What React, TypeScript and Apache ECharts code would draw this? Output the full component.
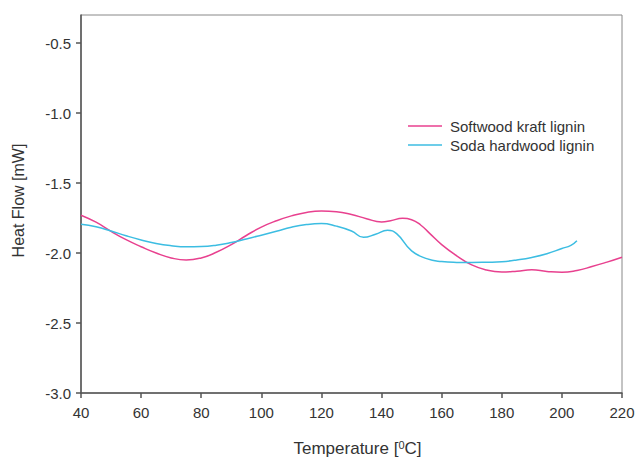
import React, { useEffect, useRef } from "react";
import * as echarts from "echarts";

const softwoodT = [40, 45, 50, 55, 60, 65, 70, 75, 80, 85, 90, 95, 100, 105, 110, 115, 120, 125, 130, 135, 140, 143, 147, 150, 153, 156, 160, 165, 170, 175, 180, 185, 190, 195, 200, 205, 210, 215, 220];
const softwoodV = [-1.73, -1.78, -1.845, -1.905, -1.955, -2.0, -2.035, -2.05, -2.035, -1.995, -1.94, -1.875, -1.815, -1.77, -1.735, -1.71, -1.7, -1.705, -1.725, -1.755, -1.778, -1.77, -1.752, -1.762, -1.8, -1.86, -1.94, -2.02, -2.085, -2.122, -2.135, -2.13, -2.12, -2.132, -2.138, -2.125, -2.097, -2.065, -2.03];

const sodaT = [40, 45, 50, 55, 60, 65, 70, 75, 80, 85, 90, 95, 100, 105, 110, 115, 120, 125, 130, 134, 138, 142, 145, 150, 155, 160, 165, 170, 175, 180, 185, 190, 195, 200, 203, 205];
const sodaV = [-1.795, -1.813, -1.843, -1.877, -1.907, -1.932, -1.948, -1.956, -1.954, -1.944, -1.925, -1.9, -1.873, -1.845, -1.816, -1.797, -1.79, -1.808, -1.843, -1.888, -1.866, -1.838, -1.862, -1.985, -2.04, -2.061, -2.067, -2.068, -2.066, -2.062, -2.05, -2.032, -2.005, -1.968, -1.945, -1.912];

const yTicks = [-3.0, -2.5, -2.0, -1.5, -1.0, -0.5];
const seriesNames = ["Softwood kraft lignin", "Soda hardwood lignin"];
const colors = ["#e8418f", "#3cbde2"];

const FONT = "Liberation Sans, Arial, sans-serif";

export default function App() {
  const ref = useRef<HTMLDivElement>(null);
  useEffect(() => {
    if (!ref.current) return;
    const chart = echarts.init(ref.current, undefined, { renderer: "svg" });
    const pair = (xs: number[], ys: number[]) => xs.map((x, i) => [x, ys[i]]);
    chart.setOption({
      animation: false,
      textStyle: { fontFamily: FONT },
      grid: {
        left: 81,
        top: 15,
        right: 15,
        bottom: 66,
        outerBoundsMode: "none",
        containLabel: false,
        show: true,
        borderColor: "#888",
        borderWidth: 1,
      },
      legend: {
        orient: "vertical",
        left: 403,
        top: 113,
        icon: "rect",
        itemWidth: 34,
        itemHeight: 1.5,
        itemGap: 3,
        textStyle: { fontSize: 15, color: "#333", fontFamily: FONT, padding: [0, 0, 0, 3], lineHeight: 16 },
        data: seriesNames,
      },
      xAxis: {
        type: "value",
        min: 40,
        max: 220,
        interval: 20,
        name: "Temperature [{sup|0}C]",
        nameLocation: "middle",
        nameGap: 46,
        nameTextStyle: {
          fontSize: 17,
          color: "#333",
          fontFamily: FONT,
          padding: [0, 0, 0, 12],
          rich: {
            sup: { fontSize: 11, verticalAlign: "top", padding: [0, 0, 8, 0], color: "#333", fontFamily: FONT },
          },
        },
        axisLine: { show: true, lineStyle: { color: "#555", width: 1.5 } },
        axisTick: { show: true, length: 5, inside: false, lineStyle: { color: "#555", width: 1.5 } },
        axisLabel: { fontSize: 15, color: "#333", margin: 12, fontFamily: FONT },
        splitLine: { show: false },
      },
      yAxis: {
        type: "value",
        min: -3.0,
        max: -0.3,
        name: "Heat Flow [mW]",
        nameLocation: "middle",
        nameGap: 55,
        nameTextStyle: { fontSize: 16, color: "#333", fontFamily: FONT, padding: [0, 0, 0, 7] },
        axisLine: { show: true, lineStyle: { color: "#555", width: 1.5 } },
        axisTick: { show: true, length: 5, inside: false, customValues: yTicks, lineStyle: { color: "#555", width: 1.5 } },
        axisLabel: {
          fontSize: 15,
          color: "#333",
          margin: 10,
          fontFamily: FONT,
          customValues: yTicks,
          formatter: (v: number) => v.toFixed(1),
        },
        splitLine: { show: false },
      },
      series: [
        {
          name: seriesNames[0],
          type: "line",
          data: pair(softwoodT, softwoodV),
          smooth: 0.5,
          symbol: "none",
          lineStyle: { color: colors[0], width: 1.5 },
          itemStyle: { color: colors[0] },
        },
        {
          name: seriesNames[1],
          type: "line",
          data: pair(sodaT, sodaV),
          smooth: 0.5,
          symbol: "none",
          lineStyle: { color: colors[1], width: 1.5 },
          itemStyle: { color: colors[1] },
        },
      ],
    });
    return () => chart.dispose();
  }, []);
  return <div ref={ref} style={{ width: 637, height: 459, position: "absolute", left: 0, top: 0 }} />;
}
